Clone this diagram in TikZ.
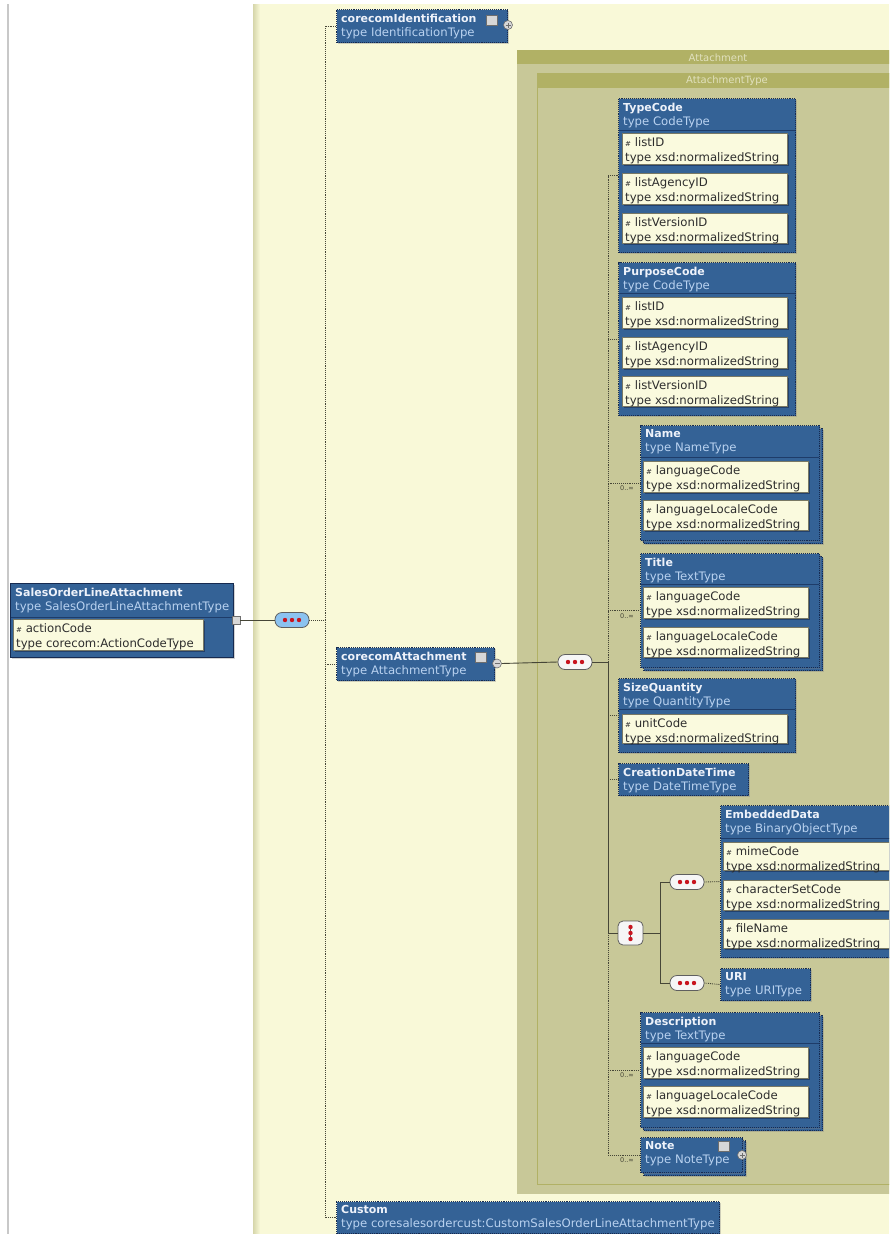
\documentclass[tikz,border=0pt]{standalone}
\usepackage{fontspec}
\setmainfont{DejaVu Sans}
\usetikzlibrary{shadows}
\definecolor{xblue}{RGB}{52,98,150}
\definecolor{xnavy}{RGB}{22,42,80}
\definecolor{xsep}{RGB}{30,60,105}
\definecolor{typeblue}{RGB}{185,210,240}
\definecolor{hdrwhite}{RGB}{238,242,250}
\definecolor{attrfill}{RGB}{250,250,222}
\definecolor{attrdraw}{RGB}{120,120,100}
\definecolor{attrtext}{RGB}{45,45,45}
\definecolor{panel}{RGB}{249,249,216}
\definecolor{panelshadow}{RGB}{214,214,170}
\definecolor{olivehdr}{RGB}{177,177,101}
\definecolor{olivebody}{RGB}{200,200,152}
\definecolor{olivetext}{RGB}{225,225,190}
\definecolor{linecol}{RGB}{70,70,55}
\definecolor{leftline}{RGB}{200,200,200}
\definecolor{pillblue}{RGB}{140,195,240}
\definecolor{pillfill}{RGB}{246,246,246}
\definecolor{pilldraw}{RGB}{95,95,95}
\definecolor{dotred}{RGB}{200,20,30}
\definecolor{iconfill}{RGB}{215,215,215}
\definecolor{icondraw}{RGB}{110,110,110}
\newcommand{\attricon}{{\fontsize{7}{7}\selectfont\color{attrtext}\#}}
\newcommand{\xelem}[8][elem]{%
  \node[#1, minimum width=#5, minimum height=#6] (#2) at (#3,#4) {};
  \node[hdrtxt] (#2-t) at ([shift={(5,4.5)}]#2.north west) {{\fontsize{11}{14}\selectfont\bfseries #7}\\\textcolor{typeblue}{type #8}};
}
\newcommand{\xsepline}[2]{%
  \draw[xsep, line width=1pt] ([shift={(1,#2)}]#1.north west) -- ([shift={(-1,#2)}]#1.north east);
}
\newcommand{\xattr}[7]{%
  \node[attrst, minimum width=#4, minimum height=#5] (#1) at (#2,#3) {};
  \node[attrtxt] (#1-t) at ([shift={(3,4.5)}]#1.north west) {\attricon\ #6\\type #7};
}
\newcommand{\xdotsh}[1]{\foreach \d in {-7,0,7} \fill[dotred] ([xshift=\d pt]#1.center) circle (2.2);}
\newcommand{\xdotsv}[1]{\foreach \d in {-6,0,6} \fill[dotred] ([yshift=\d pt]#1.center) circle (2.2);}
\newcommand{\xplus}[1]{\draw[icondraw, line width=0.8pt] ([xshift=-2.5pt]#1.center) -- ([xshift=2.5pt]#1.center) ([yshift=-2.5pt]#1.center) -- ([yshift=2.5pt]#1.center);}
\newcommand{\xminus}[1]{\draw[icondraw, line width=0.8pt] ([xshift=-2.5pt]#1.center) -- ([xshift=2.5pt]#1.center);}
\begin{document}
\begin{tikzpicture}[x=1pt, y=-1pt,
  elem/.style={rectangle, anchor=north west, inner sep=0, fill=xblue, draw=xnavy, densely dotted, line width=1.1pt,
    drop shadow={shadow xshift=1.5pt, shadow yshift=-1.5pt, opacity=0.35}},
  elemsolid/.style={elem, solid},
  hdrtxt/.style={anchor=north west, inner sep=0, align=left, text=hdrwhite, font=\fontsize{11.7}{14}\selectfont},
  attrst/.style={rectangle, anchor=north west, inner sep=0, fill=attrfill, draw=attrdraw, line width=0.7pt,
    drop shadow={shadow xshift=1.5pt, shadow yshift=-1.5pt, opacity=0.6, fill=xnavy}},
  attrtxt/.style={anchor=north west, inner sep=0, align=left, text=attrtext, font=\fontsize{11.7}{15}\selectfont},
  pill/.style={rectangle, rounded corners=7pt, minimum width=34, minimum height=15, inner sep=0, fill=pillfill, draw=pilldraw, line width=0.8pt},
  choicebox/.style={rectangle, rounded corners=5pt, minimum width=25, minimum height=24, inner sep=0, fill=pillfill, draw=pilldraw, line width=0.8pt},
  conn/.style={draw=linecol, line width=0.9pt},
  optc/.style={draw=linecol, line width=0.9pt, densely dotted},
  expd/.style={circle, minimum size=9, inner sep=0, fill=iconfill, draw=icondraw, line width=0.6pt},
  ticon/.style={rectangle, minimum width=11, minimum height=10, inner sep=0, fill=iconfill, draw=icondraw, line width=0.6pt},
  mult/.style={inner sep=0, text=linecol, font=\fontsize{6.5}{7}\selectfont},
  olivebox/.style={rectangle, anchor=north west, inner sep=0, fill=olivebody},
  olivehdrst/.style={rectangle, anchor=north west, inner sep=0, fill=olivehdr},
  olivetxt/.style={inner sep=0, text=olivetext, font=\fontsize{10}{11}\selectfont},
  sq/.style={rectangle, minimum size=8, inner sep=0, fill=iconfill, draw=icondraw, line width=0.6pt}
]
\useasboundingbox (0,0) rectangle (889,1234);
\clip (0,0) rectangle (889,1234);
\fill[white] (0,0) rectangle (889,1234);
\draw[leftline, line width=1.3pt] (8,4) -- (8,1234);
\fill[panel] (253,4) rectangle (889,1234);
\shade[left color=panelshadow, right color=panel] (253,4) rectangle (260,1234);

% Attachment / AttachmentType frames
\node[olivebox, minimum width=403, minimum height=1144] (att) at (517,50) {};
\node[olivehdrst, minimum width=403, minimum height=14] (atth) at (517,50) {};
\node[olivetxt] (attl) at (718,57.5) {Attachment};
\node[olivebox, draw=olivehdr, line width=1.2pt, minimum width=383, minimum height=1111] (attt) at (537,73) {};
\node[olivehdrst, minimum width=383, minimum height=15] (attth) at (537,73) {};
\node[olivetxt] (atttl) at (727,81) {AttachmentType};

% Root element
\xelem[elemsolid]{sola}{10}{583}{223}{74}{SalesOrderLineAttachment}{SalesOrderLineAttachmentType}
\xsepline{sola}{34}
\xattr{solaa}{13}{619}{190}{31}{actionCode}{corecom:ActionCodeType}
\node[sq] (solac) at (236,620) {};
\node[pill, fill=pillblue] (p1) at (292,620) {};
\xdotsh{p1}
\coordinate (t1) at (325,620);

% children of sequence 1
\xelem{cid}{336}{9}{171}{33}{corecomIdentification}{IdentificationType}
\node[ticon] (cidi) at (492,20) {};
\node[expd] (cidx) at (508,25) {};
\xplus{cidx}

\xelem{catt}{336}{647}{158}{33}{corecomAttachment}{AttachmentType}
\node[ticon] (catti) at (481,657) {};
\node[expd] (cattx) at (497,663.5) {};
\xminus{cattx}

\xelem{custom}{336}{1201}{383}{32}{Custom}{coresalesordercust:CustomSalesOrderLineAttachmentType}

% sequence 2
\node[pill] (p2) at (575,662) {};
\xdotsh{p2}
\coordinate (t2) at (608,662);
\coordinate (t3) at (608,933);

% TypeCode
\xelem{typecode}{618}{98}{177}{154}{TypeCode}{CodeType}
\xsepline{typecode}{32}
\xattr{tc1}{622}{133}{165}{31}{listID}{xsd:normalizedString}
\xattr{tc2}{622}{173}{165}{31}{listAgencyID}{xsd:normalizedString}
\xattr{tc3}{622}{213}{165}{30}{listVersionID}{xsd:normalizedString}

% PurposeCode
\xelem{purpose}{618}{262}{177}{153}{PurposeCode}{CodeType}
\xsepline{purpose}{31}
\xattr{pc1}{622}{297}{165}{31}{listID}{xsd:normalizedString}
\xattr{pc2}{622}{337}{165}{31}{listAgencyID}{xsd:normalizedString}
\xattr{pc3}{622}{376}{165}{30}{listVersionID}{xsd:normalizedString}

% Name (unbounded)
\node[elem, minimum width=179, minimum height=115] (nameb) at (643,428) {};
\xelem{name}{640}{425}{179}{115}{Name}{NameType}
\xsepline{name}{32}
\xattr{nm1}{643}{461}{165}{31}{languageCode}{xsd:normalizedString}
\xattr{nm2}{643}{500}{165}{30}{languageLocaleCode}{xsd:normalizedString}
\node[mult] (mname) at (627,488) {0..∞};

% Title (unbounded)
\node[elem, minimum width=179, minimum height=114] (titleb) at (643,556) {};
\xelem{title}{640}{553}{179}{114}{Title}{TextType}
\xsepline{title}{31}
\xattr{ti1}{643}{587}{165}{31}{languageCode}{xsd:normalizedString}
\xattr{ti2}{643}{627}{165}{30}{languageLocaleCode}{xsd:normalizedString}
\node[mult] (mtitle) at (627,616) {0..∞};

% SizeQuantity
\xelem{sizeq}{618}{678}{177}{74}{SizeQuantity}{QuantityType}
\xsepline{sizeq}{31}
\xattr{sq1}{622}{714}{165}{29}{unitCode}{xsd:normalizedString}

% CreationDateTime
\xelem{cdt}{618}{763}{130}{32}{CreationDateTime}{DateTimeType}

% choice
\node[choicebox] (ch) at (630.5,933) {};
\draw[pilldraw, line width=0.6pt] ([yshift=-7pt]ch.center) -- ([yshift=7pt]ch.center);
\xdotsv{ch}
\coordinate (t4) at (660,933);
\node[pill] (p3) at (687,882) {};
\xdotsh{p3}
\node[pill] (p4) at (687,983) {};
\xdotsh{p4}

% EmbeddedData
\xelem{emb}{720}{805}{180}{152}{EmbeddedData}{BinaryObjectType}
\xsepline{emb}{33}
\xattr{em1}{723}{842}{172}{28}{mimeCode}{xsd:normalizedString}
\xattr{em2}{723}{880}{172}{30}{characterSetCode}{xsd:normalizedString}
\xattr{em3}{723}{919}{172}{29}{fileName}{xsd:normalizedString}

% URI
\xelem{uri}{720}{968}{90}{32}{URI}{URIType}

% Description (unbounded)
\node[elem, minimum width=179, minimum height=115] (descb) at (643,1015) {};
\xelem{desc}{640}{1012}{179}{115}{Description}{TextType}
\xsepline{desc}{31}
\xattr{de1}{643}{1047}{165}{31}{languageCode}{xsd:normalizedString}
\xattr{de2}{643}{1086}{165}{31}{languageLocaleCode}{xsd:normalizedString}
\node[mult] (mdesc) at (627,1075) {0..∞};

% Note (unbounded)
\node[elem, minimum width=102, minimum height=35] (noteb) at (643,1140) {};
\xelem{note}{640}{1137}{102}{35}{Note}{NoteType}
\node[ticon] (notei) at (724,1146) {};
\node[expd] (notex) at (742,1155) {};
\xplus{notex}
\node[mult] (mnote) at (627,1160) {0..∞};

% connectors
\draw[conn] (solac.east) -- (p1.west);
\draw[optc] (p1.east) -- (t1);
\draw[optc] (t1) |- (cid.west);
\draw[optc] (t1) |- (catt.west);
\draw[optc] (t1) |- (custom.west);
\draw[conn] (cattx.east) -- (p2.west);
\draw[conn] (p2.east) -- (t2);
\draw[optc] (t2) |- (typecode.west);
\draw[optc] (t2) |- (purpose.west);
\draw[optc] (t2) |- (name.west);
\draw[optc] (t2) |- (title.west);
\draw[conn] (t2) -- (t3);
\draw[optc] (sizeq.west -| t2) -- (sizeq.west);
\draw[optc] (cdt.west -| t2) -- (cdt.west);
\draw[conn] (t3) -- (ch.west);
\draw[optc] (t3) |- (desc.west);
\draw[optc] (t3) |- (note.west);
\draw[conn] (ch.east) -- (t4);
\draw[conn] (t4) |- (p3.west);
\draw[conn] (t4) |- (p4.west);
\draw[optc] (p3.east) -- (emb.west);
\draw[optc] (p4.east) -- (uri.west);
\end{tikzpicture}
\end{document}
